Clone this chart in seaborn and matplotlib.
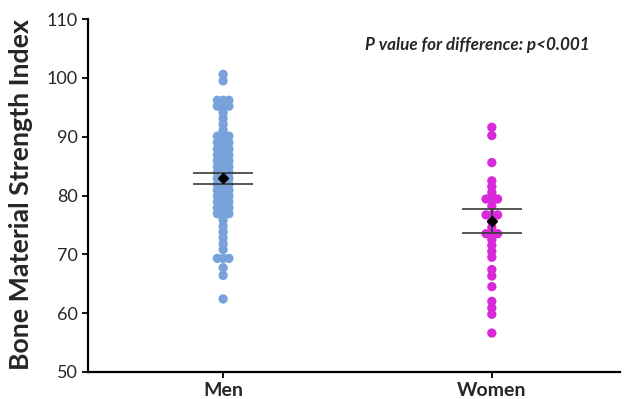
import numpy as np
import pandas as pd
import seaborn as sns
import matplotlib.pyplot as plt

groups = ["Men", "Women"]

men_values = [
    100.6, 99.5,
    96.2, 96.2, 96.2, 95.2, 95.2, 95.2,
    94.1, 93.1, 92.1, 91.1,
    90.1, 90.1, 90.1, 89.0, 89.0, 89.0,
    87.9, 87.9, 87.9, 86.9, 86.9, 86.9, 85.9, 85.9, 85.9,
    84.9, 84.9, 84.9, 83.9, 83.9, 83.9, 82.9, 82.9, 82.9,
    81.9, 81.9, 81.9, 80.9, 80.9, 80.9, 79.9, 79.9, 79.9,
    78.9, 78.9, 78.9, 77.9, 77.9, 77.9, 76.9, 76.9, 76.9,
    75.8, 74.8, 73.8, 72.8, 71.8, 70.8,
    69.3, 69.3, 69.3,
    67.7, 66.4,
    62.4,
]

women_values = [
    91.6, 90.2,
    85.6,
    82.5, 81.5, 80.5,
    79.4, 79.4, 79.4,
    78.2,
    76.7, 76.7, 76.7,
    75.6, 74.6,
    73.5, 73.5, 73.5,
    72.5, 71.5, 70.5, 69.5,
    67.4, 66.3,
    64.5,
    62.0, 60.9, 59.8,
    56.6,
]

# mean and 95% CI as shown on the chart
group_means = [82.9, 75.7]
ci_lower = [81.9, 73.6]
ci_upper = [83.9, 77.7]

point_colors = ["#78A3DA", "#D92AD9"]
p_text = "P value for difference: p<0.001"

df = pd.DataFrame({
    "group": ["Men"] * len(men_values) + ["Women"] * len(women_values),
    "bmsi": men_values + women_values,
})

sns.set_style("ticks")
plt.rcParams["font.family"] = ["Lato", "DejaVu Sans"]

fig = plt.figure(figsize=(6.24, 3.99), dpi=100)
ax = fig.add_axes([0.141, 0.068, 0.853, 0.884])

sns.swarmplot(
    data=df,
    x="group",
    y="bmsi",
    hue="group",
    order=groups,
    palette=point_colors,
    size=3.96,
    linewidth=0,
    legend=False,
    ax=ax,
)

ax.set_ylim(50, 110)
ax.set_xlim(-0.503, 1.478)

# lay the swarm out with small dots, then draw them bigger so they overlap
fig.canvas.draw()
for pts in ax.collections:
    pts.__dict__.pop("draw", None)
    pts.set_sizes([6.7 ** 2])

means = np.array(group_means)
yerr = [means - np.array(ci_lower), np.array(ci_upper) - means]
ax.errorbar(
    range(len(groups)),
    means,
    yerr=yerr,
    fmt="D",
    color="black",
    ms=5,
    ecolor="#3a3a3a",
    elinewidth=1.2,
    capsize=21.6,
    capthick=1.2,
    zorder=5,
)

ax.set_yticks(range(50, 111, 10))
sns.despine(ax=ax)
for side in ["left", "bottom"]:
    ax.spines[side].set_linewidth(1.6)
    ax.spines[side].set_color("black")
ax.tick_params(axis="both", length=4, width=1.3, color="black")
ax.tick_params(axis="y", labelsize=13, labelcolor="#262626")
ax.tick_params(axis="x", labelsize=14)
for lbl in ax.get_xticklabels():
    lbl.set_fontweight("bold")

ax.set_xlabel("")
ax.set_ylabel("Bone Material Strength Index", fontsize=19.3, fontweight="bold")
ax.yaxis.set_label_coords(-0.103, 0.504)

ax.text(
    0.52, 0.926, p_text,
    transform=ax.transAxes,
    ha="left", va="center",
    fontsize=12.3, fontweight="bold", fontstyle="italic",
)

fig.savefig("out.png", dpi=100)
